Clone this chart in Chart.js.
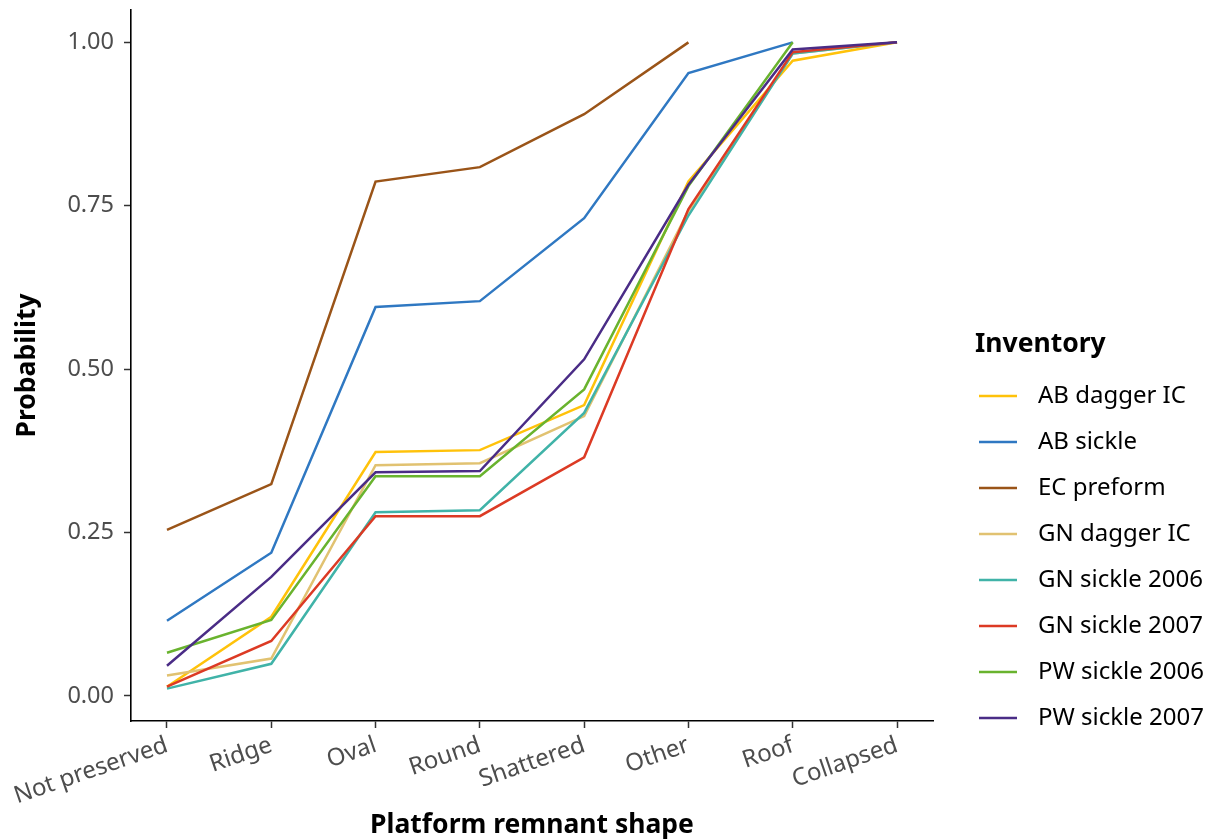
<!DOCTYPE html>
<html>
<head>
<meta charset="utf-8">
<title>Platform remnant shape</title>
<script src="https://cdn.jsdelivr.net/npm/chart.js@4/dist/chart.umd.min.js"></script>
<style>
  html, body { margin: 0; padding: 0; background: #fff; }
  #wrap { width: 1211px; height: 840px; }
</style>
</head>
<body>
<div id="wrap"><canvas id="chart"></canvas></div>
<script>
// Platform remnant shapes, in cumulative order
const shapes = ['Not preserved', 'Ridge', 'Oval', 'Round', 'Shattered', 'Other', 'Roof', 'Collapsed'];
const yTicks = [0, 0.25, 0.5, 0.75, 1];

// Cumulative probability per inventory (null = no more points)
const abDaggerIC   = [0.014, 0.121, 0.373, 0.376, 0.445, 0.787, 0.972, 1.000];
const abSickle     = [0.115, 0.219, 0.595, 0.604, 0.731, 0.953, 1.000, null];
const ecPreform    = [0.254, 0.324, 0.787, 0.809, 0.890, 1.000, null, null];
const gnDaggerIC   = [0.031, 0.057, 0.353, 0.356, 0.428, 0.742, 0.983, 1.000];
const gnSickle2006 = [0.011, 0.049, 0.281, 0.284, 0.433, 0.735, 0.983, 1.000];
const gnSickle2007 = [0.014, 0.084, 0.275, 0.275, 0.365, 0.745, 0.985, 1.000];
const pwSickle2006 = [0.066, 0.116, 0.336, 0.336, 0.469, 0.780, 1.000, null];
const pwSickle2007 = [0.046, 0.182, 0.342, 0.344, 0.515, 0.782, 0.989, 1.000];

const inventories = ['AB dagger IC', 'AB sickle', 'EC preform', 'GN dagger IC',
                     'GN sickle 2006', 'GN sickle 2007', 'PW sickle 2006', 'PW sickle 2007'];
const series = [abDaggerIC, abSickle, ecPreform, gnDaggerIC,
                gnSickle2006, gnSickle2007, pwSickle2006, pwSickle2007];
const colors = ['#FFC20A', '#2F78C2', '#9A5418', '#E1C271',
                '#40B3A8', '#DC3A24', '#69B32E', '#4A2C86'];

const FONT = "'Noto Sans', 'DejaVu Sans', sans-serif";
const TEXT = '#4d4d4d';

const datasets = series.map((vals, i) => ({
  label: inventories[i],
  data: vals.map((v, j) => ({ x: j, y: v })),
  borderColor: colors[i],
  backgroundColor: colors[i],
  borderWidth: 2.5,
  pointRadius: 0,
  tension: 0,
  spanGaps: false,
  order: series.length - i   // later inventories on top
}));

// legend drawn to the right of the plot panel
const sideLegend = {
  id: 'sideLegend',
  afterDraw(chart) {
    const ctx = chart.ctx;
    ctx.save();
    ctx.textBaseline = 'middle';
    ctx.textAlign = 'left';
    ctx.fillStyle = '#000';
    ctx.font = `bold 26.5px ${FONT}`;
    ctx.fillText('Inventory', 975, 344);
    ctx.font = `24px ${FONT}`;
    chart.data.datasets.forEach((ds, i) => {
      const y = 396 + i * 46;
      ctx.strokeStyle = ds.borderColor;
      ctx.lineWidth = 2.5;
      ctx.beginPath();
      ctx.moveTo(979, y);
      ctx.lineTo(1017, y);
      ctx.stroke();
      ctx.fillStyle = '#000';
      ctx.fillText(ds.label, 1038, y);
    });
    ctx.restore();
  }
};

const config = {
  type: 'line',
  data: { datasets },
  options: {
    responsive: true,
    maintainAspectRatio: false,
    animation: false,
    layout: { padding: { left: 0, right: 278, top: 10, bottom: 0 } },
    plugins: {
      legend: { display: false },
      tooltip: { enabled: false }
    },
    scales: {
      x: {
        type: 'linear',
        min: -0.345,
        max: 7.345,
        afterFit(scale) { scale.height = 119; scale.paddingLeft = 0; scale.paddingRight = 0; },
        afterBuildTicks(scale) { scale.ticks = shapes.map((s, i) => ({ value: i })); },
        ticks: {
          autoSkip: false,
          includeBounds: false,
          minRotation: 19,
          maxRotation: 19,
          padding: 3,
          color: TEXT,
          font: { family: FONT, size: 24 },
          callback: (v) => shapes[v]
        },
        grid: { drawOnChartArea: false, drawTicks: true, tickLength: 7, tickWidth: 1.5, color: '#333' },
        border: { display: true, color: '#000', width: 1.6 },
        title: {
          display: true,
          text: 'Platform remnant shape',
          color: '#000',
          font: { family: FONT, size: 26.5, weight: 'bold' },
          padding: { top: 0, bottom: -1 }
        }
      },
      y: {
        min: -0.0385,
        max: 1.0495,
        afterFit(scale) { scale.width = 131; scale.paddingTop = 0; scale.paddingBottom = 0; },
        afterBuildTicks(scale) { scale.ticks = yTicks.map(v => ({ value: v })); },
        ticks: {
          padding: 10,
          color: TEXT,
          font: { family: FONT, size: 23.5 },
          callback: (v) => v.toFixed(2)
        },
        grid: { drawOnChartArea: false, drawTicks: true, tickLength: 7, tickWidth: 1.5, color: '#333' },
        border: { display: true, color: '#000', width: 1.6 },
        title: {
          display: true,
          text: 'Probability',
          color: '#000',
          font: { family: FONT, size: 26.5, weight: 'bold' },
          padding: { top: 12, bottom: 0 }
        }
      }
    }
  },
  plugins: [sideLegend]
};

const chartElement = document.getElementById('chart');
const myChart = new Chart(chartElement, config);
</script>
</body>
</html>
